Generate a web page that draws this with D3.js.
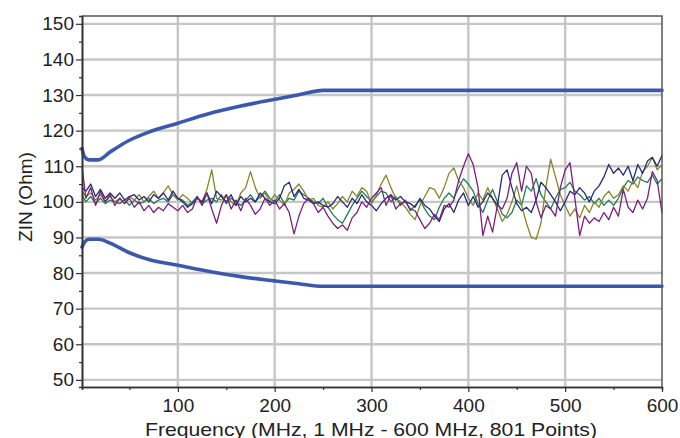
<!DOCTYPE html>
<html>
<head>
<meta charset="utf-8">
<script src="https://cdn.jsdelivr.net/npm/d3@7"></script>
<style>
  body { margin: 0; background: #fff; }
  svg { display: block; font-family: Arial, "Liberation Sans", sans-serif; }
</style>
</head>
<body>
<svg id="chart" width="680" height="438"></svg>
<script>
// sweep frequencies (MHz) the traces were read at
var freqs = [1].concat(d3.range(5, 601, 5));

// ZIN traces (Ohm), one per pair
var purpleTrace = [
    110, 101, 104, 99, 103, 100, 102, 99, 101, 99.5,
    101, 98.5, 100, 97.5, 99, 97, 98.5, 97.5, 99.5, 98.5,
    97.5, 99, 97, 98, 101.5, 99, 102.5, 98, 94, 99,
    102, 98, 100.5, 97.5, 101, 99, 96.5, 98, 101, 99,
    100.5, 98, 99.5, 97, 91, 96, 99.5, 101, 99.5, 97,
    98.5, 96, 94, 92.5, 93.5, 92, 95.5, 97, 100, 98.5,
    101, 102.5, 104, 99, 102, 98, 99.5, 100, 98, 97.5,
    95, 92.5, 94, 96.5, 95, 99, 98.5, 100.5, 106, 110,
    113.5, 110.5, 104, 90.5, 96, 91.5, 99, 98, 101, 108,
    111, 103, 110, 108, 100, 95.5, 99, 98, 96, 104,
    109, 111, 101, 90.5, 96, 94, 95.5, 94.5, 97, 95,
    98.5, 96, 103.5, 98.5, 97, 100.5, 98, 101, 108.5, 106,
    97
];
var navyTrace = [
    104, 103, 105, 101.5, 103.5, 101, 102.5, 101, 102.5, 100.5,
    101.5, 102, 100.5, 101.5, 100, 102, 101, 102.5, 100.5, 103,
    101, 100, 98.5, 99.5, 101, 100, 102.5, 99.5, 103, 101.5,
    100, 102, 99, 101.5, 100, 101, 100, 102.5, 101, 100,
    99.5, 101, 104.5, 105.5, 101.5, 103.5, 101, 100.5, 99.5, 100,
    99, 98.5, 99.5, 101.5, 100, 98.5, 101, 99.5, 102, 100,
    99, 97.5, 99.5, 101, 102, 100.5, 101.5, 100, 99.5, 98.5,
    101, 99, 98, 96, 94.5, 98, 99.5, 97, 100.5, 102.5,
    99, 101.5, 98.5, 100, 102.5, 101, 99, 107.5, 109, 104,
    99.5, 97.5, 98.5, 97, 100.5, 105.5, 104, 102, 100, 97.5,
    100, 103, 102, 104, 102.5, 100, 103, 104.5, 107, 110.5,
    108, 109.5, 107.5, 110, 106, 110.5, 108, 111.5, 112.5, 110,
    113
];
var greenTrace = [
    102, 100, 101.5, 99.5, 101, 99.5, 100.5, 100, 99.5, 100.5,
    99, 100.5, 99.5, 100, 101, 99.5, 100.5, 101, 100, 102,
    101, 100.5, 99, 100, 101.5, 99.5, 100.5, 101, 100, 102,
    99.5, 101, 100, 99, 100.5, 102, 100, 101.5, 103, 101,
    100, 102, 99.5, 101, 100.5, 103, 102, 101, 100, 99.5,
    101, 98.5, 96.5, 95, 94, 96.5, 99, 101, 103, 101.5,
    100, 101.5, 103, 102.5, 100, 101.5, 99, 100.5, 97.5, 99,
    100.5, 98, 96, 95, 98.5, 101, 102.5, 101, 104, 106.5,
    105, 103, 99.5, 97, 100.5, 103.5, 100, 96.5, 95.5, 97,
    100.5, 99, 104.5, 103, 106.5, 102, 100, 98, 101, 103.5,
    104, 105.5, 103, 102, 100.5, 101.5, 99.5, 101, 99, 100.5,
    99, 101, 104, 106, 105, 107, 106, 105.5, 107.5, 105,
    106.5
];
var oliveTrace = [
    103, 101.5, 102.5, 100.5, 102, 100, 101.5, 100, 101, 99.5,
    101.5, 100.5, 102, 100, 101.5, 103, 101, 102.5, 104.5, 102,
    100.5, 102, 101, 99.5, 101, 100, 103.5, 109, 101, 100.5,
    102, 100, 99, 102.5, 104, 108.5, 104, 101, 102.5, 100,
    102, 100.5, 99, 102.5, 103.5, 105, 103, 100.5, 101, 99,
    98.5, 100, 98, 99.5, 101.5, 100, 103, 101.5, 104, 103,
    99.5, 102, 105, 107.5, 104, 101, 100, 98.5, 96.5, 95,
    99, 101.5, 104, 103.5, 101, 104, 108, 109.5, 106, 104,
    101, 99, 102.5, 100.5, 104, 101, 98, 94.5, 96.5, 100,
    104.5, 99, 94, 90, 89.5, 94, 104, 112, 107, 102,
    99, 96, 98, 95.5, 99, 97, 100, 98.5, 101.5, 103,
    101, 102, 104.5, 103, 106, 104, 108.5, 110, 112.5, 109,
    110.5
];

// limit lines: breakpoints (MHz) and values (Ohm)
var upperLimitFreqs = [1, 3, 8, 18, 30, 50, 70, 100, 130, 165, 200, 225, 250, 600];
var upperLimitValues = [115, 113, 111.8, 111.8, 114, 117.3, 119.6, 122.1, 124.6, 126.9, 128.8, 130.1, 131.3, 131.3];
var lowerLimitFreqs = [1, 4, 8, 18, 30, 50, 70, 100, 130, 165, 200, 225, 250, 600];
var lowerLimitValues = [87.3, 88.8, 89.5, 89.5, 88.4, 85.7, 83.8, 82.2, 80.6, 79.0, 77.8, 77.0, 76.3, 76.3];

var xMajorTicks = [100, 200, 300, 400, 500, 600];
var xMinorTicks = [50, 150, 250, 350, 450, 550];
var yMajorTicks = [50, 60, 70, 80, 90, 100, 110, 120, 130, 140, 150];
var yMinorTicks = [55, 65, 75, 85, 95, 105, 115, 125, 135, 145];

var xTitle = "Frequency (MHz, 1 MHz - 600 MHz, 801 Points)";
var yTitle = "ZIN (Ohm)";

var traces = [
    { name: "green", color: "#1f7d55", values: greenTrace },
    { name: "olive", color: "#85852c", values: oliveTrace },
    { name: "navy", color: "#28297a", values: navyTrace },
    { name: "purple", color: "#7a1f7e", values: purpleTrace }
];

var plotLeft = 82, plotRight = 662, plotTop = 16, plotBottom = 387;

var svg = d3.select("#chart");

var x = d3.scaleLinear().domain([1, 600]).range([plotLeft, plotRight]);
var y = d3.scaleLinear().domain([48, 152.2]).range([plotBottom, plotTop]);

// grid
var grid = svg.append("g").attr("class", "grid")
    .attr("stroke", "#c6c6c6")
    .attr("stroke-width", 2.4);

grid.selectAll(".hgrid")
    .data(yMajorTicks)
    .enter()
    .append("line")
    .attr("class", "hgrid")
    .attr("x1", plotLeft)
    .attr("x2", plotRight)
    .attr("y1", function (d) { return y(d); })
    .attr("y2", function (d) { return y(d); });

grid.selectAll(".vgrid")
    .data(xMajorTicks.filter(function (d) { return d < 600; }))
    .enter()
    .append("line")
    .attr("class", "vgrid")
    .attr("y1", plotTop)
    .attr("y2", plotBottom)
    .attr("x1", function (d) { return x(d); })
    .attr("x2", function (d) { return x(d); });

// frame top / right
svg.append("path")
    .attr("d", "M" + plotLeft + "," + plotTop + "H" + plotRight + "V" + plotBottom)
    .attr("fill", "none")
    .attr("stroke", "#555")
    .attr("stroke-width", 1.5);

// traces
var line = d3.line()
    .x(function (d) { return x(d.f); })
    .y(function (d) { return y(d.v); });

svg.append("g").attr("class", "traces")
    .selectAll("path")
    .data(traces)
    .enter()
    .append("path")
    .attr("fill", "none")
    .attr("stroke", function (d) { return d.color; })
    .attr("stroke-width", 1.3)
    .attr("stroke-linejoin", "round")
    .attr("d", function (d) {
        return line(d.values.map(function (v, i) { return { f: freqs[i], v: v }; }));
    });

// limits
var limitLine = d3.line()
    .curve(d3.curveMonotoneX)
    .x(function (d) { return x(d.f); })
    .y(function (d) { return y(d.v); });

var limits = [
    upperLimitFreqs.map(function (f, i) { return { f: f, v: upperLimitValues[i] }; }),
    lowerLimitFreqs.map(function (f, i) { return { f: f, v: lowerLimitValues[i] }; })
];

svg.append("g").attr("class", "limits")
    .selectAll("path")
    .data(limits)
    .enter()
    .append("path")
    .attr("fill", "none")
    .attr("stroke", "#3b58ae")
    .attr("stroke-width", 3.6)
    .attr("stroke-linecap", "round")
    .attr("d", limitLine);

// axes
function styleAxis(g) {
    g.attr("font-size", 19).attr("font-family", "Arial, 'Liberation Sans', sans-serif");
    g.select(".domain").attr("stroke", "#333").attr("stroke-width", 1.6);
    g.selectAll(".tick line").attr("stroke", "#333").attr("stroke-width", 1.2);
    g.selectAll(".tick text").attr("fill", "#222");
}

svg.append("g")
    .attr("transform", "translate(" + plotLeft + ",0)")
    .call(d3.axisLeft(y).tickValues(yMinorTicks).tickSize(3).tickFormat(""))
    .call(styleAxis);

svg.append("g")
    .attr("transform", "translate(" + plotLeft + ",0)")
    .call(d3.axisLeft(y).tickValues(yMajorTicks).tickSize(6).tickPadding(2).tickSizeOuter(0))
    .call(styleAxis);

svg.append("g")
    .attr("transform", "translate(0," + plotBottom + ")")
    .call(d3.axisBottom(x).tickValues(xMinorTicks).tickSize(3).tickFormat(""))
    .call(styleAxis);

svg.append("g")
    .attr("transform", "translate(0," + plotBottom + ")")
    .call(d3.axisBottom(x).tickValues(xMajorTicks).tickSize(5).tickPadding(7).tickSizeOuter(0))
    .call(styleAxis);

// titles
svg.append("text")
    .attr("x", 371)
    .attr("y", 436)
    .attr("text-anchor", "middle")
    .attr("font-size", 19)
    .attr("fill", "#222")
    .attr("textLength", 452)
    .attr("lengthAdjust", "spacingAndGlyphs")
    .text(xTitle);

svg.append("text")
    .attr("transform", "translate(32,197) rotate(-90)")
    .attr("text-anchor", "middle")
    .attr("font-size", 19)
    .attr("fill", "#222")
    .text(yTitle);
</script>
</body>
</html>
